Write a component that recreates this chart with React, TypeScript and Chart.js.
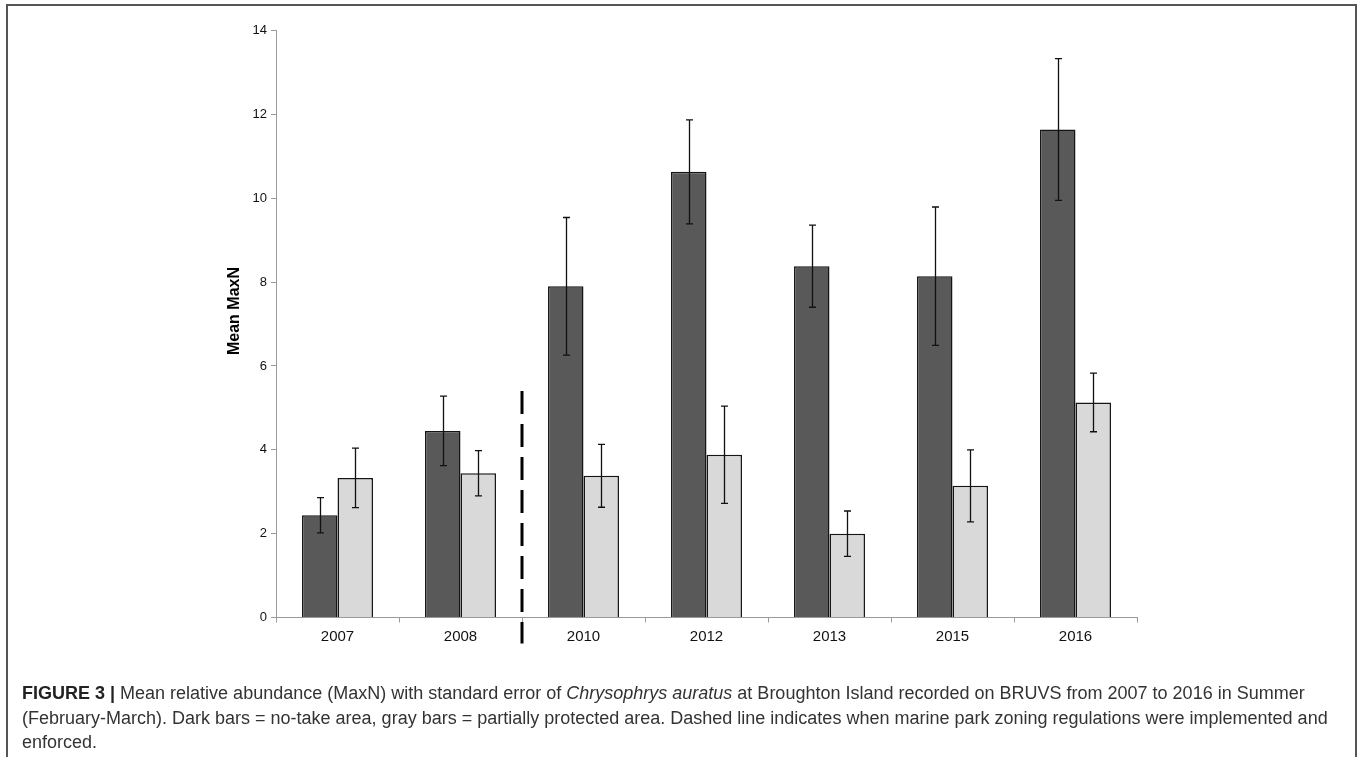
import React, { useEffect, useRef } from "react";
import { Chart, registerables } from "chart.js";

Chart.register(...registerables);

const categories = ["2007", "2008", "2010", "2012", "2013", "2015", "2016"];
const noTakeMean = [2.44, 4.45, 7.9, 10.63, 8.38, 8.14, 11.64];
const noTakeSE = [0.42, 0.83, 1.64, 1.24, 0.98, 1.65, 1.69];
const partialMean = [3.33, 3.44, 3.38, 3.88, 2.0, 3.14, 5.13];
const partialSE = [0.71, 0.54, 0.75, 1.16, 0.54, 0.86, 0.7];
const yMin = 0;
const yMax = 14;
const yStep = 2;
const dashedAfterIndex = 1; // line between 2008 and 2010
const dashedTopValue = 5.4;
const yTitle = "Mean MaxN";

const FONT = "'Liberation Sans', Arial, Helvetica, sans-serif";

const errorBarPlugin = {
  id: "errorBars",
  afterDatasetsDraw(chart: any) {
    const { ctx } = chart;
    const y = chart.scales.y;
    const ses = [noTakeSE, partialSE];
    const means = [noTakeMean, partialMean];
    ctx.save();
    ctx.strokeStyle = "#111";
    ctx.lineWidth = 1.3;
    for (let d = 0; d < 2; d++) {
      const meta = chart.getDatasetMeta(d);
      meta.data.forEach((bar: any, i: number) => {
        const x = Math.round(bar.x) + 0.5;
        const yTop = y.getPixelForValue(means[d][i] + ses[d][i]);
        const yBot = y.getPixelForValue(means[d][i] - ses[d][i]);
        ctx.beginPath();
        ctx.moveTo(x, yTop);
        ctx.lineTo(x, yBot);
        ctx.moveTo(x - 3.5, yTop);
        ctx.lineTo(x + 3.5, yTop);
        ctx.moveTo(x - 3.5, yBot);
        ctx.lineTo(x + 3.5, yBot);
        ctx.stroke();
      });
    }
    ctx.restore();
  },
  afterDraw(chart: any) {
    const { ctx } = chart;
    const xs = chart.scales.x;
    const ys = chart.scales.y;
    const xl =
      (xs.getPixelForValue(dashedAfterIndex) + xs.getPixelForValue(dashedAfterIndex + 1)) / 2;
    ctx.save();
    ctx.strokeStyle = "#000";
    ctx.lineWidth = 3;
    ctx.setLineDash([23, 10]);
    ctx.beginPath();
    ctx.moveTo(xl, ys.getPixelForValue(dashedTopValue));
    ctx.lineTo(xl, ys.getPixelForValue(0) + 26);
    ctx.stroke();
    ctx.restore();
    ctx.save();
    ctx.translate(235, 311);
    ctx.rotate(-Math.PI / 2);
    ctx.font = `bold 16px ${FONT}`;
    ctx.fillStyle = "#000";
    ctx.textAlign = "center";
    ctx.textBaseline = "middle";
    ctx.fillText(yTitle, 0, 0);
    ctx.restore();
  },
};

export default function App() {
  const ref = useRef<HTMLCanvasElement>(null);
  useEffect(() => {
    if (!ref.current) return;
    const chart = new Chart(ref.current, {
      type: "bar",
      data: {
        labels: categories,
        datasets: [
          {
            label: "No-take",
            data: noTakeMean,
            backgroundColor: "#595959",
            borderColor: "#151515",
            borderWidth: 1.5,
            categoryPercentage: 0.577,
            barPercentage: 1,
          },
          {
            label: "Partially protected",
            data: partialMean,
            backgroundColor: "#d9d9d9",
            borderColor: "#151515",
            borderWidth: 1.5,
            categoryPercentage: 0.577,
            barPercentage: 1,
          },
        ],
      },
      options: {
        animation: false,
        responsive: false,
        devicePixelRatio: 1,
        layout: { padding: { left: 216, right: 225, top: 30.5, bottom: 32.5 } },
        plugins: { legend: { display: false }, tooltip: { enabled: false } },
        scales: {
          x: {
            offset: true,
            grid: {
              offset: true,
              drawOnChartArea: false,
              drawTicks: true,
              tickLength: 5,
              color: "#9a9a9a",
            },
            border: { display: true, color: "#9a9a9a", width: 1 },
            ticks: { color: "#111", font: { family: FONT, size: 15 }, padding: 5 },
            afterFit: (s: any) => {
              s.height = 50;
            },
          },
          y: {
            min: yMin,
            max: yMax,
            grid: {
              drawOnChartArea: false,
              drawTicks: true,
              tickLength: 5,
              color: "#9a9a9a",
            },
            border: { display: true, color: "#9a9a9a", width: 1 },
            ticks: {
              stepSize: yStep,
              color: "#111",
              font: { family: FONT, size: 13 },
              padding: 4,
            },
            afterFit: (s: any) => {
              s.width = 60;
            },
          },
        },
      },
      plugins: [errorBarPlugin],
    });
    return () => chart.destroy();
  }, []);

  return (
    <div
      style={{
        position: "fixed",
        left: 0,
        top: 0,
        width: 1362,
        height: 761,
        overflow: "hidden",
        background: "#fff",
      }}
    >
      <div
        style={{
          position: "absolute",
          left: 6,
          top: 4,
          width: 1351,
          height: 753,
          borderTop: "2px solid #555",
          borderLeft: "2px solid #555",
          borderRight: "2px solid #555",
          boxSizing: "border-box",
        }}
      />
      <canvas
        ref={ref}
        width={1362}
        height={700}
        style={{ position: "absolute", left: 0, top: 0, width: 1362, height: 700 }}
      />
      <div
        style={{
          position: "absolute",
          left: 22,
          top: 681,
          width: 1330,
          fontFamily: FONT,
          fontSize: 18,
          lineHeight: "24.5px",
          color: "#333",
          whiteSpace: "nowrap",
        }}
      >
        <b style={{ color: "#222" }}>FIGURE 3 |</b> Mean relative abundance (MaxN) with standard
        error of <i>Chrysophrys auratus</i> at Broughton Island recorded on BRUVS from 2007 to 2016
        in Summer
        <br />
        (February-March). Dark bars = no-take area, gray bars = partially protected area. Dashed
        line indicates when marine park zoning regulations were implemented and
        <br />
        enforced.
      </div>
    </div>
  );
}
